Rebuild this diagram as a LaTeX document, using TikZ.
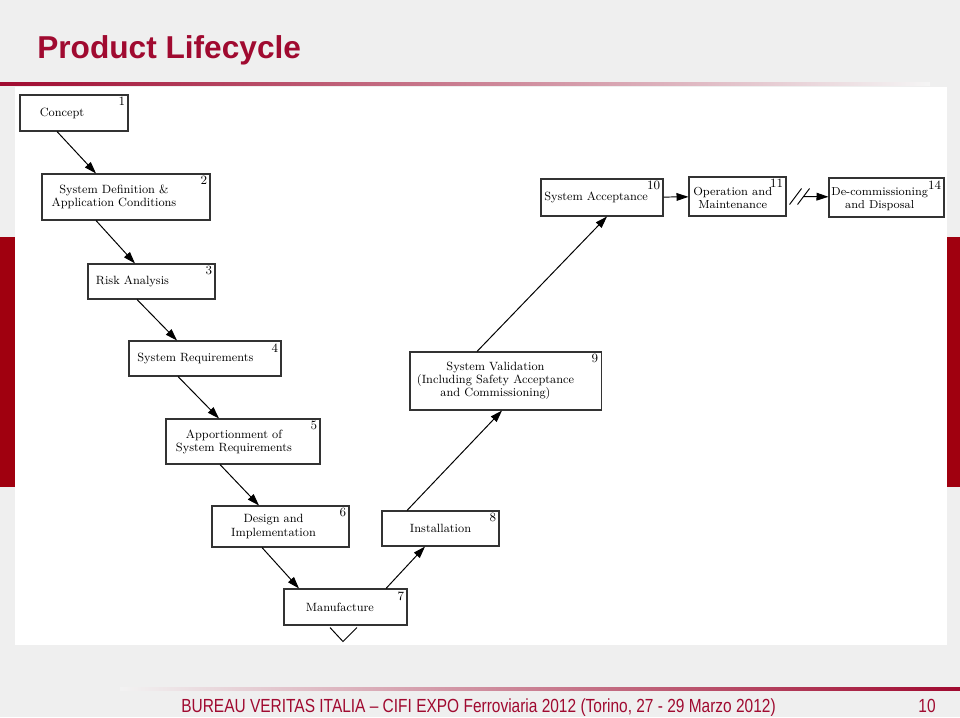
\documentclass[tikz,border=0pt]{standalone}
\usepackage{fontspec}
\usepackage{tikz}
\usetikzlibrary{arrows.meta,calc}
\newfontfamily\slidefont{Liberation Sans}
\definecolor{vred}{HTML}{A00A30}
\definecolor{bardark}{HTML}{A0000F}
\definecolor{slidebg}{HTML}{EFEFEF}
\definecolor{boxline}{HTML}{333333}

\begin{document}
\begin{tikzpicture}[
  x=0.025cm, y=-0.025cm,
  box/.style  = {rectangle, draw=boxline, line width=0.75pt, fill=white, inner sep=0pt},
  txt/.style  = {font=\fontsize{8.5}{9.3}\selectfont, align=center, inner sep=0pt},
  num/.style  = {font=\fontsize{9}{10}\selectfont, anchor=north east,
                 inner xsep=2.2pt, inner ysep=2pt},
  arr/.style  = {-{Triangle[length=8.5pt,width=5.5pt]}, line width=0.7pt},
  rule/.style = {line width=0.7pt},
]
  \useasboundingbox (0,0) rectangle (960,717);
  \fill[slidebg] (0,0) rectangle (960,717);
  \shade[left color=vred, right color=gray!8] (0,82) rectangle (930,85);
  \shade[left color=gray!10, right color=vred] (120,687) rectangle (960,690);
  \fill[bardark] (0,237) rectangle (15,487);
  \fill[bardark] (947,237) rectangle (960,487);
  \fill[white] (15,87) rectangle (947,645);

  \node[anchor=base west, inner sep=0pt, text=vred,
        font=\slidefont\bfseries\fontsize{22.5}{26}\selectfont] (title) at (37,58)
    {Product Lifecycle};

  \node[box, minimum width=2.7cm, minimum height=0.9cm,
        label={[txt, xshift=-0.3cm]center:Concept},
        label={[num]north east:1}] (concept) at (74,113) {};
  \node[box, minimum width=4.2cm, minimum height=1.15cm,
        label={[txt, xshift=-0.3cm]center:System Definition \&\\Application Conditions},
        label={[num]north east:2}] (sysdef) at (126,197) {};
  \node[box, minimum width=3.175cm, minimum height=0.875cm,
        label={[txt, xshift=-0.475cm]center:Risk Analysis},
        label={[num]north east:3}] (risk) at (151.5,281.5) {};
  \node[box, minimum width=3.8cm, minimum height=0.875cm,
        label={[txt, xshift=-0.24cm]center:System Requirements},
        label={[num]north east:4}] (sysreq) at (205,358.5) {};
  \node[box, minimum width=3.85cm, minimum height=1.125cm,
        label={[txt, xshift=-0.225cm]center:Apportionment of\\System Requirements},
        label={[num]north east:5}] (apport) at (243,441.5) {};
  \node[box, minimum width=3.425cm, minimum height=1.025cm,
        label={[txt, xshift=-0.175cm]center:Design and\\Implementation},
        label={[num]north east:6}] (design) at (280.5,526.5) {};
  \node[box, minimum width=3.075cm, minimum height=0.9cm,
        label={[txt, xshift=-0.14cm]center:Manufacture},
        label={[num]north east:7}] (manuf) at (345.5,607) {};
  \node[box, minimum width=2.925cm, minimum height=0.875cm,
        label={[txt]center:Installation},
        label={[num]north east:8}] (install) at (440.5,528.5) {};
  \node[box, minimum width=4.775cm, minimum height=1.45cm,
        label={[txt, xshift=-0.25cm]center:System Validation\\(Including Safety Acceptance\\and Commissioning)},
        label={[num]north east:9}] (sysval) at (505.5,381) {};
  \node[box, minimum width=3.05cm, minimum height=0.925cm,
        label={[txt, xshift=-0.15cm]center:System Acceptance},
        label={[num]north east:10}] (sysacc) at (602,197.5) {};
  \node[box, minimum width=2.425cm, minimum height=0.975cm,
        label={[txt, font=\fontsize{8.3}{9.3}\selectfont, xshift=-0.12cm, yshift=-1pt]center:Operation and\\Maintenance},
        label={[num]north east:11}] (opmaint) at (737.5,196.5) {};
  \node[box, minimum width=2.875cm, minimum height=0.975cm,
        label={[txt, font=\fontsize{8.2}{9.3}\selectfont, xshift=-0.17cm, yshift=-1pt]center:De-commissioning\\and Disposal},
        label={[num]north east:14}] (decom) at (886.5,197.5) {};

  \draw[arr] ($(concept.south)+(-17,0)$) -- ($(sysdef.north)+(-30,0)$);
  \draw[arr] ($(sysdef.south)+(-30,0)$)  -- ($(risk.north)+(-16.5,0)$);
  \draw[arr] ($(risk.south)+(-14.5,0)$)  -- ($(sysreq.north)+(-28,0)$);
  \draw[arr] ($(sysreq.south)+(-27,0)$)  -- ($(apport.north)+(-24,0)$);
  \draw[arr] ($(apport.south)+(-23,0)$)  -- ($(design.north)+(-21.5,0)$);
  \draw[arr] ($(design.south)+(-18.5,0)$) -- ($(manuf.north)+(-46.5,0)$);
  \draw[arr] ($(manuf.north)+(40.5,0)$)  -- ($(install.south)+(-15.5,0)$);
  \draw[arr] ($(install.north)+(-33.5,0)$) -- ($(sysval.south)+(-3.5,0)$);
  \draw[arr] ($(sysval.north)+(-28.5,0)$) -- ($(sysacc.south)+(5,0)$);
  \draw[arr] (sysacc) -- (opmaint);
  \draw[arr] ($(opmaint.east)+(17,0)$) -- (decom);
  \draw[rule] ($(opmaint.east)+(3,8)$)  -- ++(12,-16);
  \draw[rule] ($(opmaint.east)+(11,8)$) -- ++(12,-16);
  \draw[rule] ($(manuf.south)+(-15.5,2)$) -- ++(13,14) -- ++(14,-14);

  \node[anchor=base west, inner sep=0pt, text=vred,
        font=\slidefont\fontsize{13.5}{15}\selectfont] (footer) at (181,712)
    {\scalebox{0.815}[1]{BUREAU VERITAS ITALIA – CIFI EXPO Ferroviaria 2012 (Torino, 27 - 29 Marzo 2012)}};
  \node[anchor=base, inner sep=0pt, text=vred,
        font=\slidefont\fontsize{13.5}{15}\selectfont] (page) at (927,712)
    {\scalebox{0.815}[1]{10}};
\end{tikzpicture}
\end{document}
